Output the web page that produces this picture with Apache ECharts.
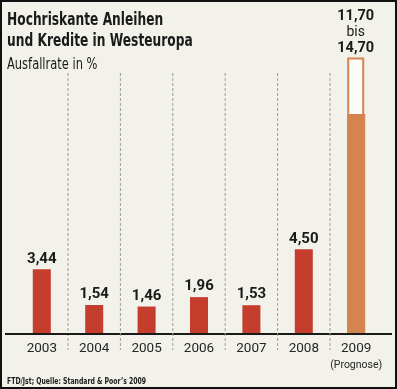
<!DOCTYPE html>
<html>
<head>
<meta charset="utf-8">
<script src="https://cdn.jsdelivr.net/npm/echarts@6/dist/echarts.min.js"></script>
<style>
html,body{margin:0;padding:0;background:#f2f1ea;}
#c{width:397px;height:389px;}
</style>
</head>
<body>
<div id="c"></div>
<script>
const years = ['2003','2004','2005','2006','2007','2008','2009'];
const rates = [3.44, 1.54, 1.46, 1.96, 1.53, 4.50, 11.70];
const forecastHigh = [null, null, null, null, null, null, 14.70];
const forecastIndex = 6;
const forecastNote = '(Prognose)';

const COND = "'DejaVu Sans Condensed', 'DejaVu Sans', sans-serif";
const FONT = "Roboto, 'Liberation Sans', sans-serif";
const INK = '#1a1a1a';
const RED = '#c43d2d';
const ORANGE = '#d5834f';
const fmt = v => v.toFixed(2).replace('.', ',');

const chart = echarts.init(document.getElementById('c'));

const mainData = rates.map((v, i) => ({
  value: v,
  itemStyle: { color: i === forecastIndex ? ORANGE : RED },
  label: { show: i !== forecastIndex }
}));
const outlineData = forecastHigh.map((v, i) => v == null ? null : ({
  value: v,
  label: {
    show: true,
    formatter: () => '{b|' + fmt(rates[i]) + '}\n{n|bis}\n{b|' + fmt(v) + '}'
  }
}));

chart.setOption({
  backgroundColor: '#f2f1ea',
  animation: false,
  graphic: [
    { type: 'text', x: 7, y: 9.8, scaleX: 0.8,
      style: { text: 'Hochriskante Anleihen\nund Kredite in Westeuropa', x: 0, y: 0,
        verticalAlign: 'top', align: 'left', lineHeight: 21.5,
        font: 'bold 17px ' + COND, fill: INK } },
    { type: 'text', x: 7, y: 58, scaleX: 0.85,
      style: { text: 'Ausfallrate in %', x: 0, y: 0, verticalAlign: 'top', align: 'left',
        font: '15px ' + COND, fill: INK } },
    { type: 'text', x: 7, y: 377, scaleX: 0.76,
      style: { text: '{b|FTD/Jst;} Quelle: Standard & Poor\u2019s 2009', x: 0, y: 0,
        verticalAlign: 'top', align: 'left', font: 'bold 9px ' + COND, fill: INK,
        rich: { b: { font: 'bold 9px ' + COND, fill: INK } } } },
    { type: 'rect', shape: { x: 1, y: 1, width: 395, height: 387 },
      style: { fill: 'none', stroke: '#111', lineWidth: 2 }, z: 100 }
  ],
  grid: { left: 15.6, right: 14.6, top: 33, bottom: 55, containLabel: false },
  xAxis: {
    type: 'category', data: years,
    axisLine: { show: false }, axisTick: { show: false },
    axisLabel: {
      interval: 0, margin: 7, fontFamily: FONT, fontSize: 13.5, color: '#262626',
      formatter: (v, i) => i === forecastIndex ? v + '\n{p|' + forecastNote + '}' : v,
      lineHeight: 16,
      rich: { p: { fontFamily: FONT, fontSize: 10.5, color: '#262626', lineHeight: 16 } }
    }
  },
  yAxis: { type: 'value', min: 0, max: 16, show: false, splitLine: { show: false } },
  series: [
    {
      type: 'bar', data: outlineData, barWidth: 17, z: 2,
      itemStyle: { color: '#fbfbf8', borderColor: ORANGE, borderWidth: 2 },
      label: {
        position: 'top', distance: 1, fontFamily: FONT, color: INK,
        rich: {
          b: { fontFamily: FONT, fontSize: 14.5, fontWeight: 'bold', color: INK, lineHeight: 16 },
          n: { fontFamily: FONT, fontSize: 14, color: INK, lineHeight: 16 }
        }
      }
    },
    {
      type: 'bar', data: mainData, barWidth: 18, barGap: '-100%', z: 3,
      label: {
        position: 'top', distance: 3, fontFamily: FONT, fontSize: 15,
        fontWeight: 'bold', color: INK, formatter: p => fmt(p.value)
      }
    },
    {
      type: 'custom', clip: false, z: 4, silent: true,
      data: years.slice(0, years.length - 1).map((y, i) => [i, 0]),
      renderItem: (params, api) => {
        const i = api.value(0);
        const base = api.coord([i, 0]);
        const w = api.size([1, 0])[0];
        const x = base[0] + w / 2;
        const children = [{
          type: 'line',
          shape: { x1: x, y1: 73, x2: x, y2: base[1] + 16 },
          style: { stroke: '#9a9a9a', lineWidth: 1, lineDash: [3, 2] }
        }];
        if (i === 0) {
          children.push({
            type: 'line',
            shape: { x1: 5, y1: base[1], x2: 392, y2: base[1] },
            style: { stroke: INK, lineWidth: 2 }
          });
        }
        return { type: 'group', children };
      }
    }
  ]
});
</script>
</body>
</html>
